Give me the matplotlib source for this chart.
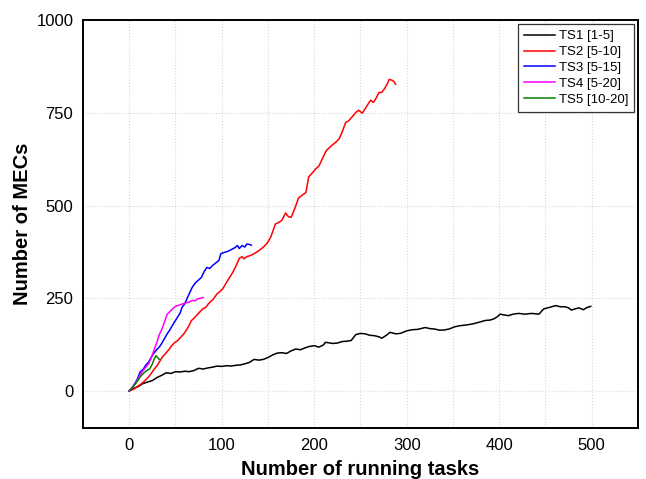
import matplotlib
matplotlib.use("Agg")
import matplotlib.pyplot as plt
from matplotlib.ticker import MultipleLocator

plt.rcParams['font.family'] = ['Liberation Sans', 'DejaVu Sans']

# values (x = running tasks, y = MECs)
ts1_x = [0, 5, 10, 15, 20, 25, 30, 35, 40, 45, 50, 55, 60, 65, 70, 75, 80, 85, 90, 95,
         100, 105, 110, 115, 120, 125, 130, 135, 140, 145, 150, 155, 160, 165, 170, 175,
         180, 185, 190, 195, 200, 205, 210, 212, 215, 220, 225, 230, 235, 240, 245, 250,
         255, 260, 265, 270, 273, 278, 282, 288, 293, 300, 306, 312, 320, 325, 330, 335,
         340, 346, 352, 358, 365, 372, 378, 385, 390, 394, 398, 401, 405, 410, 415, 421,
         428, 435, 443, 448, 454, 461, 466, 471, 475, 478, 482, 486, 491, 495, 499]
ts1_y = [0, 7, 12, 20, 24, 28, 36, 42, 49, 47, 52, 51, 53, 52, 55, 61, 59, 62, 64, 67,
         66, 68, 67, 69, 70, 73, 77, 85, 83, 85, 90, 97, 102, 103, 101, 108,
         113, 111, 116, 120, 122, 118, 124, 131, 130, 128, 129, 133, 134, 136, 152, 155,
         154, 150, 149, 146, 142, 150, 158, 154, 155, 162, 165, 166, 171, 168, 167, 164,
         164, 167, 173, 176, 178, 181, 185, 190, 191, 194, 200, 207, 205, 203, 207, 209,
         207, 209, 207, 221, 225, 230, 227, 227, 224, 218, 221, 224, 219, 225, 228]

ts2_x = [0, 5, 10, 13, 17, 20, 24, 27, 30, 33, 36, 40, 43, 46, 49, 52, 55, 59, 62, 65,
         67, 70, 73, 77, 80, 83, 86, 90, 93, 95, 98, 101, 105, 108, 112, 116, 119, 122,
         124, 127, 131, 135, 140, 145, 149, 153, 158, 162, 165, 169, 172, 175, 179, 183,
         187, 191, 194, 198, 202, 205, 208, 213, 218, 223, 227, 230, 234, 237, 241, 245,
         248, 252, 256, 261, 264, 267, 270, 273, 276, 279, 281, 284, 286, 288]
ts2_y = [0, 5, 14, 19, 28, 35, 48, 59, 68, 80, 92, 103, 112, 122, 130, 135, 143, 154, 165, 178,
         189, 196, 204, 215, 222, 226, 236, 245, 255, 262, 268, 275, 292, 304, 320, 340, 358, 362,
         356, 362, 365, 370, 378, 388, 398, 415, 450, 455, 460, 480, 470, 468, 492, 520,
         528, 535, 577, 588, 600, 606, 622, 648, 660, 670, 680, 697, 724, 728, 739, 751,
         757, 749, 765, 784, 778, 790, 805, 805, 815, 828, 840, 838, 835, 827]

ts3_x = [0, 4, 8, 12, 15, 18, 21, 24, 27, 30, 33, 36, 39, 41, 44, 47, 50, 52, 55, 57,
         60, 63, 66, 68, 71, 74, 78, 81, 84, 87, 90, 94, 97, 99, 102, 105, 108, 111,
         114, 117, 119, 122, 125, 127, 130, 132]
ts3_y = [0, 12, 28, 52, 58, 70, 78, 92, 103, 112, 120, 132, 145, 154, 165, 178, 190, 198, 210, 225,
         235, 252, 268, 279, 290, 297, 306, 322, 333, 330, 338, 346, 352, 370, 373, 375, 378, 382,
         386, 392, 384, 392, 388, 396, 395, 393]

ts4_x = [0, 3, 6, 9, 12, 15, 18, 21, 24, 27, 30, 32, 35, 38, 41, 44, 47, 50, 52, 55,
         58, 62, 65, 68, 71, 74, 77, 80]
ts4_y = [0, 8, 18, 30, 44, 55, 64, 73, 90, 112, 132, 149, 165, 185, 207, 214, 222, 228, 230, 232,
         235, 238, 240, 244, 243, 248, 250, 252]

ts5_x = [0, 3, 6, 9, 11, 14, 16, 19, 22, 24, 25, 27, 29, 30, 31, 32, 33]
ts5_y = [0, 8, 17, 27, 35, 44, 49, 55, 59, 68, 73, 86, 95, 92, 89, 86, 85]

series = [
    (ts1_x, ts1_y, "black", "TS1 [1-5]"),
    (ts2_x, ts2_y, "#ff0000", "TS2 [5-10]"),
    (ts3_x, ts3_y, "#0000ff", "TS3 [5-15]"),
    (ts4_x, ts4_y, "#ff00ff", "TS4 [5-20]"),
    (ts5_x, ts5_y, "#008000", "TS5 [10-20]"),
]

fig = plt.figure(figsize=(6.46, 4.79), dpi=100)
ax = fig.add_axes([0.1285, 0.1065, 0.859, 0.8515])

for xs, ys, col, lab in series:
    ax.plot(xs, ys, color=col, lw=1.1, label=lab)

ax.set_xlim(-50, 550)
ax.set_ylim(-100, 1000)
ax.xaxis.set_major_locator(MultipleLocator(100))
ax.xaxis.set_minor_locator(MultipleLocator(50))
ax.yaxis.set_major_locator(MultipleLocator(250))
ax.grid(True, which='both', axis='x', color='#d8d8d8', ls=':', lw=0.8)
ax.grid(True, which='major', axis='y', color='#d8d8d8', ls=':', lw=0.8)
ax.set_axisbelow(True)

ax.tick_params(which='both', length=0, labelsize=12, pad=7)
for s in ax.spines.values():
    s.set_linewidth(1.4)

ax.set_xlabel("Number of running tasks", fontsize=14.5, fontweight='bold', labelpad=5)
ax.set_ylabel("Number of MECs", fontsize=14.5, fontweight='bold', labelpad=3)

leg = ax.legend(loc='upper right', fontsize=9.5, frameon=True, fancybox=False,
                edgecolor='black', handlelength=2.3, borderaxespad=0.3,
                labelspacing=0.28, handletextpad=0.3, borderpad=0.45)
leg.get_frame().set_linewidth(0.9)

fig.savefig("out.png", dpi=100)
